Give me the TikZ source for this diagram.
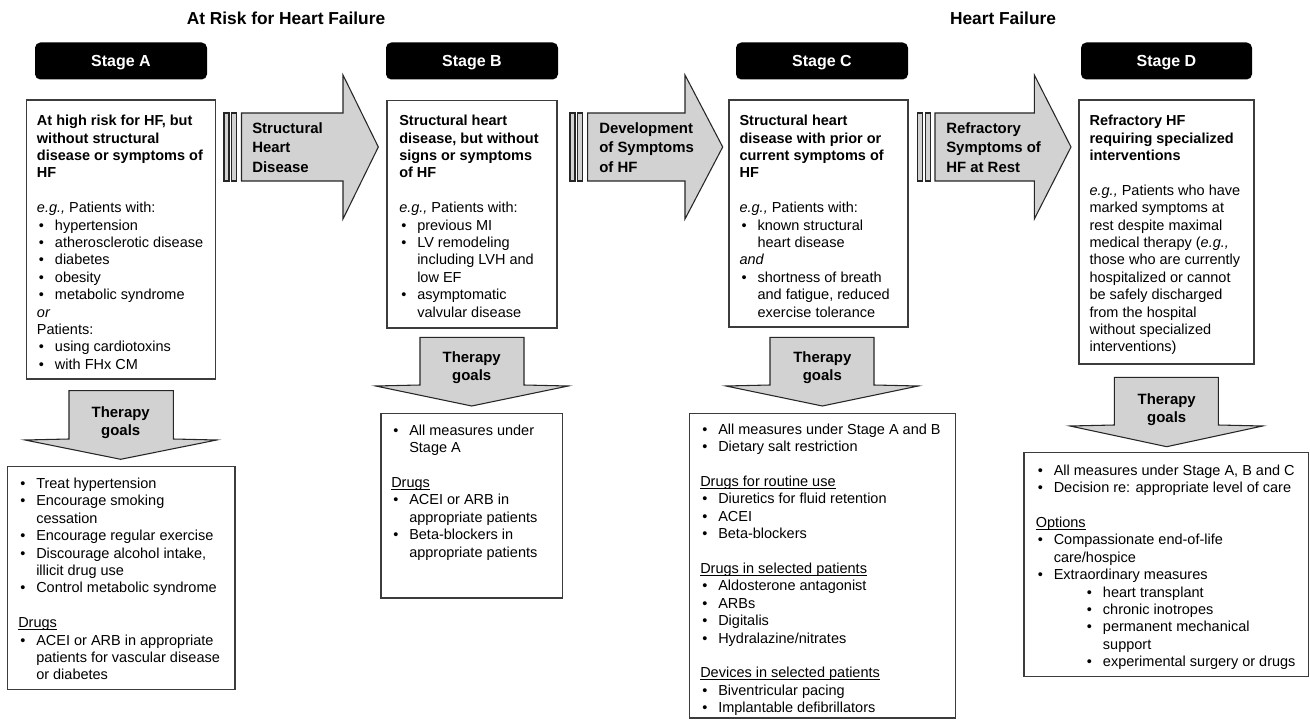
\documentclass[tikz,border=0pt]{standalone}
\usepackage{fontspec}
\setmainfont{Liberation Sans}
\usetikzlibrary{fit}
\definecolor{arrfill}{RGB}{210,210,210}
\definecolor{boxline}{RGB}{60,60,60}
\newcommand{\bul}{\makebox[13.5pt][l]{\hspace{1.5pt}\textbullet}}
\newcommand{\ind}{\hspace*{13.5pt}}
\newcommand{\subbul}{\hspace*{38.4pt}\makebox[12pt][l]{\textbullet}}
\newcommand{\subind}{\hspace*{50.4pt}}
\newcommand{\ulx}[1]{\setbox0\hbox{#1}\rlap{\rule[-1.6pt]{\wd0}{0.6pt}}\box0}
\tikzset{
  infobox/.style={draw=boxline, line width=0.8pt, fill=white, inner sep=0pt},
  stagebox/.style={fill=black, rounded corners=4pt, inner sep=0pt, text=white,
    font=\fontsize{12}{14}\selectfont\bfseries, text depth=0pt,
    minimum height=27.75pt},
  bodytext/.style={anchor=north west, inner sep=0pt, align=left,
    font=\fontsize{10.87}{13.05}\selectfont},
  blockarrow/.style={draw=black!85, line width=0.8pt, fill=arrfill, line join=miter},
  arrtext/.style={anchor=north west, inner sep=0pt, align=left,
    font=\fontsize{11.2}{14.6}\selectfont\bfseries},
  goaltext/.style={anchor=north, inner sep=0pt, align=center,
    font=\fontsize{11.2}{13.6}\selectfont\bfseries},
  header/.style={inner sep=0pt, font=\fontsize{13}{15}\selectfont\bfseries},
}
\begin{document}
\begin{tikzpicture}[x=0.75pt, y=-0.75pt]
\useasboundingbox (0,0) rectangle (1310,720);
\fill[white] (0,0) rectangle (1310,720);

% headers
\node[header] (hRisk) at (286,18) {At Risk for Heart Failure};
\node[header] (hHF) at (1003,18) {Heart Failure};

% stage labels
\node[stagebox, minimum width=129pt] (stA) at (121,61) {Stage A};
\node[stagebox, minimum width=129pt] (stB) at (472,61) {Stage B};
\node[stagebox, minimum width=129pt] (stC) at (822,61) {Stage C};
\node[stagebox, minimum width=128.25pt] (stD) at (1166.5,61) {Stage D};

% top boxes
\node[infobox, fit={(26.7,100) (215.7,379)}] (topA) {};
\node[infobox, fit={(387,100.7) (557,328)}] (topB) {};
\node[infobox, fit={(729,100) (908,327)}] (topC) {};
\node[infobox, fit={(1079,100) (1254,364)}] (topD) {};

\node[bodytext] (txtA) at (36.7,115) {%
\textbf{At high risk for HF, but}\\
\textbf{without structural}\\
\textbf{disease or symptoms of}\\
\textbf{HF}\\[13.05pt]
\textit{e.g.,} Patients with:\\
\bul hypertension\\
\bul atherosclerotic disease\\
\bul diabetes\\
\bul obesity\\
\bul metabolic syndrome\\
\textit{or}\\
Patients:\\
\bul using cardiotoxins\\
\bul with FHx CM};

\node[bodytext] (txtB) at (399,115) {%
\textbf{Structural heart}\\
\textbf{disease, but without}\\
\textbf{signs or symptoms}\\
\textbf{of HF}\\[13.05pt]
\textit{e.g.,} Patients with:\\
\bul previous MI\\
\bul LV remodeling\\
\ind including LVH and\\
\ind low EF\\
\bul asymptomatic\\
\ind valvular disease};

\node[bodytext] (txtC) at (739.3,115) {%
\textbf{Structural heart}\\
\textbf{disease with prior or}\\
\textbf{current symptoms of}\\
\textbf{HF}\\[13.05pt]
\textit{e.g.,} Patients with:\\
\bul known structural\\
\ind heart disease\\
\textit{and}\\
\bul shortness of breath\\
\ind and fatigue, reduced\\
\ind exercise tolerance};

\node[bodytext] (txtD) at (1089.3,115) {%
\textbf{Refractory HF}\\
\textbf{requiring specialized}\\
\textbf{interventions}\\[13.05pt]
\textit{e.g.,} Patients who have\\
marked symptoms at\\
rest despite maximal\\
medical therapy (\textit{e.g.,}\\
those who are currently\\
hospitalized or cannot\\
be safely discharged\\
from the hospital\\
without specialized\\
interventions)};

% horizontal block arrows
\draw[blockarrow] (224,113) rectangle (229,181);
\draw[blockarrow] (231.5,113) rectangle (236.5,181);
\draw[blockarrow] (241.5,113) -- (343,113) -- (343,75) -- (378.3,147) -- (343,219) -- (343,181) -- (241.5,181) -- cycle;
\node[arrtext] (arr1) at (252,122) {Structural\\Heart\\Disease};

\draw[blockarrow] (570,113) rectangle (575,181);
\draw[blockarrow] (577.5,113) rectangle (582.5,181);
\draw[blockarrow] (587.7,113) -- (685,113) -- (685,75) -- (722.7,147) -- (685,219) -- (685,181) -- (587.7,181) -- cycle;
\node[arrtext] (arr2) at (599,122) {Development\\of Symptoms\\of HF};

\draw[blockarrow] (917.7,113) rectangle (922.7,181);
\draw[blockarrow] (925.2,113) rectangle (930.2,181);
\draw[blockarrow] (935,113) -- (1034.3,113) -- (1034.3,75) -- (1071,147) -- (1034.3,219) -- (1034.3,181) -- (935,181) -- cycle;
\node[arrtext] (arr3) at (946,122) {Refractory\\Symptoms of\\HF at Rest};

% vertical therapy arrows
\draw[blockarrow] (69,390.7) -- (173.3,390.7) -- (173.3,439) -- (216.7,440) -- (120.7,459.3) -- (25,440) -- (69,439) -- cycle;
\node[goaltext] (tgA) at (120.7,406) {Therapy\\goals};
\draw[blockarrow] (420,337.3) -- (524,337.3) -- (524,385) -- (568.3,386) -- (471.7,406) -- (375.7,386) -- (420,385) -- cycle;
\node[goaltext] (tgB) at (471.7,351.5) {Therapy\\goals};
\draw[blockarrow] (770,337.3) -- (874,337.3) -- (874,385) -- (918.3,386) -- (822.3,406) -- (726,386) -- (770,385) -- cycle;
\node[goaltext] (tgC) at (822.3,351.5) {Therapy\\goals};
\draw[blockarrow] (1114.3,377.3) -- (1218.3,377.3) -- (1218.3,425) -- (1262.7,426) -- (1166.7,446.7) -- (1070,426) -- (1114.3,425) -- cycle;
\node[goaltext] (tgD) at (1166.7,393.5) {Therapy\\goals};

% bottom boxes
\node[infobox, fit={(7.3,466.7) (235,689.3)}] (botA) {};
\node[infobox, fit={(381,413.3) (562.7,598)}] (botB) {};
\node[infobox, fit={(689.3,413.3) (955.3,718)}] (botC) {};
\node[infobox, fit={(1024,452.7) (1308.3,676.7)}] (botD) {};

\node[bodytext] (gA) at (18,477.8) {%
\bul Treat hypertension\\
\bul Encourage smoking\\
\ind cessation\\
\bul Encourage regular exercise\\
\bul Discourage alcohol intake,\\
\ind illicit drug use\\
\bul Control metabolic syndrome\\[13.05pt]
\ulx{Drugs}\\
\bul ACEI or ARB in appropriate\\
\ind patients for vascular disease\\
\ind or diabetes};

\node[bodytext] (gB) at (391,424.5) {%
\bul All measures under\\
\ind Stage A\\[13.05pt]
\ulx{Drugs}\\
\bul ACEI or ARB in\\
\ind appropriate patients\\
\bul Beta-blockers in\\
\ind appropriate patients};

\node[bodytext] (gC) at (700,423.5) {%
\bul All measures under Stage A and B\\
\bul Dietary salt restriction\\[13.05pt]
\ulx{Drugs for routine use}\\
\bul Diuretics for fluid retention\\
\bul ACEI\\
\bul Beta-blockers\\[13.05pt]
\ulx{Drugs in selected patients}\\
\bul Aldosterone antagonist\\
\bul ARBs\\
\bul Digitalis\\
\bul Hydralazine/nitrates\\[13.05pt]
\ulx{Devices in selected patients}\\
\bul Biventricular pacing\\
\bul Implantable defibrillators};

\node[bodytext] (gD) at (1035.5,464.5) {%
\bul All measures under Stage A, B and C\\
\bul Decision re: appropriate level of care\\[13.05pt]
\ulx{Options}\\
\bul Compassionate end-of-life\\
\ind care/hospice\\
\bul Extraordinary measures\\
\subbul heart transplant\\
\subbul chronic inotropes\\
\subbul permanent mechanical\\
\subind support\\
\subbul experimental surgery or drugs};

\end{tikzpicture}
\end{document}
